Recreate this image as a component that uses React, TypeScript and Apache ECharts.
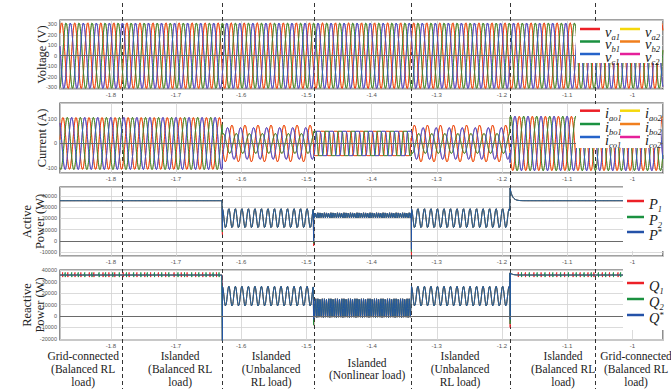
import React, { useEffect, useRef } from "react";
import * as echarts from "echarts";

// ---------------- data ----------------
const X_MIN = -1.878;
const X_MAX = -0.953;
const SAMPLE_STEP = 0.0004;

// dashed event markers (s)
const eventTimes = [-1.783, -1.629, -1.489, -1.339, -1.1876, -1.057];
// load changes (segment boundaries, s)
const loadChangeTimes = [-1.629, -1.489, -1.339, -1.1876];
const stageLabels = [
  "Grid-connected\n(Balanced RL\nload)",
  "Islanded\n(Balanced RL\nload)",
  "Islanded\n(Unbalanced\nRL load)",
  "Islanded\n(Nonlinear load)",
  "Islanded\n(Unbalanced\nRL load)",
  "Islanded\n(Balanced RL\nload)",
  "Grid-connected\n(Balanced RL\nload)",
];
const stageLabelTimes = [-1.8425, -1.6937, -1.5541, -1.4069, -1.2643, -1.1063, -0.9943];

// per segment (5 segments between load changes)
const gridFreqHz = 50;
const voltagePeak = [315, 315, 315, 315, 315];
const voltageCrestTime = -1.8754;
const segmentLoad = ["RL", "RL", "NL", "RL", "RL"];
const currentPeakA = [105, 74, 49, 74, 110];
const currentPeakB = [105, 40, 49, 40, 110];
const currentPeakC = [105, 64, 49, 64, 110];
const currentLagDeg = [35, 20, 10, 20, 35];

const activeMean = [35800, 20200, 22800, 20200, 35800];
const activeSwing = [0, 8500, 2300, 8500, 0];
const reactiveMean = [35800, 17300, 6900, 17300, 35800];
const reactiveSwing = [0, 8700, 8200, 8700, 0];
const rippleHz = [0, 100, 300, 100, 0];
const activeOvershoot = [0, 0, 0, 0, 11200];
const reactiveOvershoot = [0, 0, 0, 0, 1900];
const settleTau = 0.0035;

const activeSpikeTimes = [-1.629, -1.489, -1.339];
const p1Spikes = [5700, -4500, -12500];
const p2Spikes = [8000, -2000, -9500];
const pRefSpikes = [10000, 0, -7500];

const reactiveSpikeTimes = [-1.629, -1.489, -1.1876];
const q1Spikes = [-25000, -8000, -10000];
const q2Spikes = [-25000, -8000, -7000];
const qRefSpikes = [-25000, -3000, -3000];

const q1TickTimes = [-1.874, -1.866, -1.855, -1.846, -1.833, -1.826, -1.812, -1.803, -1.794, -1.781, -1.772, -1.76, -1.748, -1.739, -1.727, -1.716, -1.703, -1.692, -1.683, -1.67, -1.659, -1.648, -1.638, -1.175, -1.164, -1.151, -1.14, -1.127, -1.116, -1.104, -1.091, -1.08, -1.068, -1.059, -1.046, -1.035, -1.022];
const q2TickTimes = [-1.87, -1.86, -1.85, -1.84, -1.829, -1.818, -1.808, -1.797, -1.787, -1.776, -1.765, -1.754, -1.744, -1.733, -1.722, -1.711, -1.697, -1.687, -1.676, -1.665, -1.654, -1.643, -1.634, -1.17, -1.158, -1.146, -1.134, -1.122, -1.11, -1.098, -1.086, -1.074, -1.063, -1.052, -1.041, -1.029, -1.018];
const qTickUp = 2300;
const qTickDown = 1800;

const yRanges = [
  [-319, 342],
  [-119, 163],
  [-13400, 48000],
  [-21000, 40200],
];
const yNames = ["Voltage (V)", "Current (A)", "Active\nPower (W)", "Reactive\nPower (W)"];

// ---------------- styles / layout ----------------
const SERIF = "'Liberation Serif', 'DejaVu Serif', serif";
const SANS = "'Liberation Sans', Arial, sans-serif";
const RED = "#ec2027";
const GREEN = "#1b9140";
const BLUE = "#2563c9";
const YELLOW = "#f5d80c";
const ORANGE = "#f07f1e";
const MAGENTA = "#e5209a";
const PBLUE = "#2452a8";

const gridBoxes = [
  { left: 60, top: 20, width: 603, height: 69 },
  { left: 60, top: 103, width: 603, height: 70 },
  { left: 60, top: 187, width: 603, height: 69 },
  { left: 60, top: 270, width: 603, height: 70 },
];

// ---------------- helpers ----------------
const sampleTimes: number[] = (() => {
  const a: number[] = [];
  const n = Math.round((X_MAX - X_MIN) / SAMPLE_STEP);
  for (let k = 0; k <= n; k++) a.push(X_MIN + k * SAMPLE_STEP);
  return a;
})();

function segAt(t: number) {
  let s = 0;
  while (s < loadChangeTimes.length && t >= loadChangeTimes[s]) s++;
  return s;
}
function segStart(s: number) {
  return s === 0 ? X_MIN : loadChangeTimes[s - 1];
}
const W = 2 * Math.PI * gridFreqHz;

function voltageAt(t: number, k: number) {
  const s = segAt(t);
  return voltagePeak[s] * Math.cos(W * (t - voltageCrestTime) - (k * 2 * Math.PI) / 3);
}
function currentAt(t: number, k: number) {
  const s = segAt(t);
  const peak = [currentPeakA, currentPeakB, currentPeakC][k][s];
  const th = W * (t - voltageCrestTime) - (k * 2 * Math.PI) / 3 - (currentLagDeg[s] * Math.PI) / 180;
  if (segmentLoad[s] === "NL") return peak * Math.max(-1, Math.min(1, 2.2 * Math.cos(th)));
  return peak * Math.cos(th);
}
function powerAt(t: number, mean: number[], swing: number[], over: number[]) {
  const s = segAt(t);
  const dt = t - segStart(s);
  return mean[s] + swing[s] * Math.cos(2 * Math.PI * rippleHz[s] * dt) + over[s] * Math.exp(-dt / settleTau);
}
const activeAt = (t: number) => powerAt(t, activeMean, activeSwing, activeOvershoot);
const reactiveAt = (t: number) => powerAt(t, reactiveMean, reactiveSwing, reactiveOvershoot);

function build(fn: (t: number) => number, extras: number[][] = []) {
  const pts = sampleTimes.map((t) => [t, fn(t)]);
  for (const e of extras) pts.push(e);
  pts.sort((a, b) => a[0] - b[0]);
  return pts;
}
const spikes = (times: number[], vals: number[]) => times.map((t, i) => [t + 0.0001, vals[i]]);
const ticks = (times: number[]) =>
  times.flatMap((t) => [
    [t, reactiveAt(t) + qTickUp],
    [t + 0.00008, reactiveAt(t) - qTickDown],
  ]);

const legendText: Record<string, string> = {
  va1: "{m|v}{s|a1}", vb1: "{m|v}{s|b1}", vc1: "{m|v}{s|c1}",
  va2: "{m|v}{s|a2}", vb2: "{m|v}{s|b2}", vc2: "{m|v}{s|c2}",
  iao1: "{m|i}{s|ao1}", ibo1: "{m|i}{s|bo1}", ico1: "{m|i}{s|co1}",
  iao2: "{m|i}{s|ao2}", ibo2: "{m|i}{s|bo2}", ico2: "{m|i}{s|co2}",
  P1: "{m|P}{s|1}", P2: "{m|P}{s|2}", "P*": "{m|P}{u|*}",
  Q1: "{m|Q}{s|1}", Q2: "{m|Q}{s|2}", "Q*": "{m|Q}{u|*}",
};
const legendRich = {
  m: { fontFamily: SERIF, fontStyle: "italic", fontSize: 14.5, lineHeight: 10, color: "#222", verticalAlign: "top" },
  s: { fontFamily: SERIF, fontStyle: "italic", fontSize: 8.5, lineHeight: 4, color: "#222", verticalAlign: "top", padding: [8, 0, 0, 0] },
  u: { fontFamily: SERIF, fontSize: 9, lineHeight: 4, color: "#222", verticalAlign: "top", padding: [0, 0, 0, 0] },
};

// legend rows: [name, left, top]; the first of each block carries the white box
const legendRows: [string, number, number][][] = [
  [["va1", 580, 24], ["vb1", 580, 36.5], ["vc1", 580, 49], ["va2", 620, 24], ["vb2", 620, 36.5], ["vc2", 620, 49]],
  [["iao1", 580, 105.7], ["ibo1", 580, 119], ["ico1", 580, 132], ["iao2", 620, 105.7], ["ibo2", 620, 119], ["ico2", 620, 132]],
  [["P1", 627, 196], ["P2", 627, 212], ["P*", 627, 227]],
  [["Q1", 627, 278], ["Q2", 627, 294], ["Q*", 627, 310]],
];
// white box behind each legend block: [left, top, right, bottom]
const legendBoxes = [
  [576, 21, 662, 60],
  [576, 104, 662, 145],
  [623, 186, 671, 248],
  [623, 269, 671, 327],
];
const legendTextWidth = [15, 18, 14, 15];

function buildOption() {
  const grid = gridBoxes.map((g) => ({ ...g, show: true, borderColor: "#444", borderWidth: 1.2 }));
  const xAxis = gridBoxes.map((_, i) => ({
    type: "value",
    gridIndex: i,
    min: X_MIN,
    max: X_MAX,
    splitNumber: 9,
    axisLine: { show: false },
    axisTick: { show: false },
    axisLabel: {
      fontSize: 6,
      color: "#555",
      fontFamily: SANS,
      margin: 3,
      showMinLabel: false,
      showMaxLabel: false,
      formatter: (v: number) => String(+v.toFixed(2)),
    },
    splitLine: { show: true, lineStyle: { color: "#d2d2d2", width: 0.8 } },
  }));
  const splitNumbers = [6, 3, 5, 5];
  const yAxis = gridBoxes.map((_, i) => ({
    type: "value",
    gridIndex: i,
    min: yRanges[i][0],
    max: yRanges[i][1],
    splitNumber: splitNumbers[i],
    axisLine: { show: false },
    axisTick: { show: false },
    axisLabel: {
      fontSize: 5.5,
      color: "#555",
      fontFamily: SANS,
      margin: 3,
      showMinLabel: false,
      showMaxLabel: false,
      formatter: (v: number) => String(v),
    },
    splitLine: { show: true, lineStyle: { color: "#d2d2d2", width: 0.8 } },
  }));

  const zeroLine = {
    silent: true,
    symbol: ["none", "none"],
    label: { show: false },
    lineStyle: { color: "#6a6a6a", type: "solid", width: 1 },
    data: [{ yAxis: 0 }],
    animation: false,
  };
  const line = (name: string, color: string, gi: number, data: number[][], extra: any = {}) => ({
    type: "line",
    name,
    xAxisIndex: gi,
    yAxisIndex: gi,
    data,
    color,
    symbol: "none",
    showSymbol: false,
    lineStyle: { color, width: 0.9 },
    emphasis: { disabled: true },
    silent: true,
    ...extra,
  });

  const series = [
    line("va2", YELLOW, 0, build((t) => voltageAt(t, 0)), { markLine: zeroLine }),
    line("vb2", ORANGE, 0, build((t) => voltageAt(t, 1))),
    line("vc2", MAGENTA, 0, build((t) => voltageAt(t, 2))),
    line("va1", RED, 0, build((t) => voltageAt(t, 0))),
    line("vb1", GREEN, 0, build((t) => voltageAt(t, 1))),
    line("vc1", BLUE, 0, build((t) => voltageAt(t, 2))),
    line("iao2", YELLOW, 1, build((t) => currentAt(t, 0)), { markLine: zeroLine }),
    line("ibo2", ORANGE, 1, build((t) => currentAt(t, 1))),
    line("ico2", MAGENTA, 1, build((t) => currentAt(t, 2))),
    line("iao1", RED, 1, build((t) => currentAt(t, 0))),
    line("ibo1", GREEN, 1, build((t) => currentAt(t, 1))),
    line("ico1", BLUE, 1, build((t) => currentAt(t, 2))),
    line("P1", RED, 2, build(activeAt, spikes(activeSpikeTimes, p1Spikes)), { markLine: zeroLine }),
    line("P2", GREEN, 2, build(activeAt, spikes(activeSpikeTimes, p2Spikes))),
    line("P*", PBLUE, 2, build(activeAt, spikes(activeSpikeTimes, pRefSpikes))),
    line("Q1", RED, 3, build(reactiveAt, [...spikes(reactiveSpikeTimes, q1Spikes), ...ticks(q1TickTimes)]), { markLine: zeroLine }),
    line("Q2", GREEN, 3, build(reactiveAt, [...spikes(reactiveSpikeTimes, q2Spikes), ...ticks(q2TickTimes)])),
    line("Q*", PBLUE, 3, build(reactiveAt, spikes(reactiveSpikeTimes, qRefSpikes))),
  ];

  const ITEM_H = 14;
  const legend: any[] = [];
  legendRows.forEach((rows, bi) => {
    const iw = bi < 2 ? 20 : 17;
    rows.forEach(([name, left, top], ri) => {
      const base: any = {
        orient: "vertical",
        itemWidth: iw,
        itemHeight: 2.5,
        icon: "rect",
        selectedMode: false,
        formatter: (n: string) => legendText[n],
        textStyle: { rich: legendRich },
        data: [name],
      };
      if (ri === 0) {
        const [bl, bt, br, bb] = legendBoxes[bi];
        const contentW = iw + 5 + legendTextWidth[bi];
        legend.push({
          ...base,
          z: 200,
          left: bl,
          top: bt,
          backgroundColor: "#ffffff",
          padding: [top - bt, br - (left + contentW), bb - (top + ITEM_H), left - bl],
        });
      } else {
        legend.push({ ...base, z: 201, left, top, padding: 0 });
      }
    });
  });

  return {
    animation: false,
    backgroundColor: "#ffffff",
    grid,
    xAxis,
    yAxis,
    legend,
    series,
  };
}

const titleFontSize = 12.5;
// anchor x for the rotated titles, tuned so they land where the reference has them
const titleAnchorX = [41.5, 41.5, 33, 33];

export default function App() {
  const ref = useRef<HTMLDivElement>(null);
  useEffect(() => {
    const el = ref.current!;
    const chart = echarts.init(el, undefined, { renderer: "svg" });
    chart.setOption(buildOption());
    const xp = (t: number) => chart.convertToPixel({ xAxisIndex: 0 }, t) as number;
    const elements: any[] = [];
    eventTimes.forEach((t) => {
      const x = Math.round(xp(t)) + 0.5;
      elements.push({
        type: "line",
        silent: true,
        shape: { x1: x, y1: 3, x2: x, y2: 389 },
        style: { stroke: "#333", lineWidth: 1, lineDash: [4, 3] },
      });
    });
    yNames.forEach((nm, i) => {
      const g = gridBoxes[i];
      elements.push({
        type: "text",
        silent: true,
        x: titleAnchorX[i],
        y: g.top + g.height / 2,
        rotation: Math.PI / 2,
        style: {
          text: nm,
          fontFamily: SERIF,
          fontSize: titleFontSize,
          lineHeight: 13,
          fill: "#222",
          align: "center",
          verticalAlign: "middle",
        },
      });
    });
    stageLabels.forEach((txt, i) => {
      elements.push({
        type: "text",
        silent: true,
        x: xp(stageLabelTimes[i]),
        y: 369,
        style: {
          text: txt,
          fontFamily: SERIF,
          fontSize: 11.5,
          lineHeight: 12.8,
          fill: "#222",
          align: "center",
          verticalAlign: "middle",
        },
      });
    });
    chart.setOption({ graphic: { elements } });
    return () => chart.dispose();
  }, []);
  return (
    <div
      ref={ref}
      style={{ position: "fixed", left: 0, top: 0, width: 671, height: 389, background: "#fff" }}
    />
  );
}
